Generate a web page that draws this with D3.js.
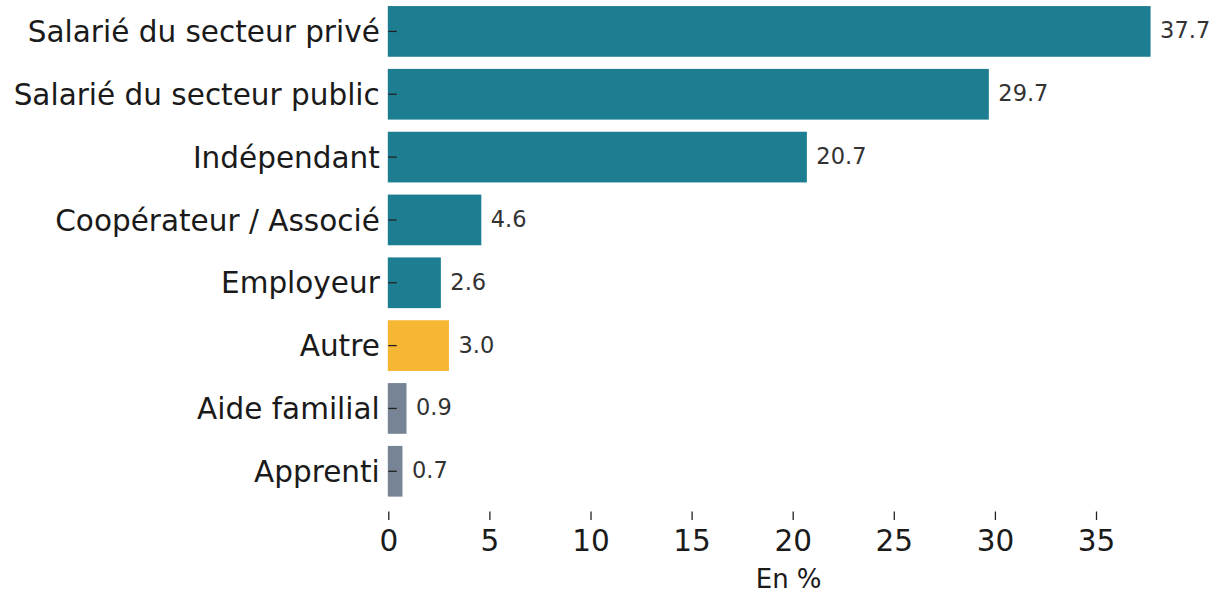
<!DOCTYPE html>
<html><head><meta charset="utf-8">
<script src="https://cdn.jsdelivr.net/npm/d3@7"></script>
<style>html,body{margin:0;padding:0;background:#fff;}svg{display:block;}</style>
</head><body>
<svg id="c" width="1222" height="596"></svg>
<script>
const categories = ["Salarié du secteur privé","Salarié du secteur public","Indépendant","Coopérateur / Associé","Employeur","Autre","Aide familial","Apprenti"];
const values = [37.7, 29.7, 20.7, 4.6, 2.6, 3.0, 0.9, 0.7];
const groups = ["main","main","main","main","main","other","minor","minor"];
const xTicks = [0,5,10,15,20,25,30,35];
const xLabel = "En %";

const colorMap = {main:"#1e7e91", other:"#f6b834", minor:"#768496"};
const font = "DejaVu Sans, sans-serif";
const svg = d3.select("#c");
const x = d3.scaleLinear().domain([0,35]).range([388.3,1096]);
const y = d3.scaleBand().domain(categories).range([0,502.7]).paddingInner(0.193).paddingOuter(0.0965);

svg.append("g").selectAll("rect").data(categories).join("rect")
  .attr("x", x(0)-0.5).attr("y", d=>y(d))
  .attr("width", (d,i)=>x(values[i])-x(0)+0.5).attr("height", y.bandwidth())
  .attr("fill", (d,i)=>colorMap[groups[i]]);

// y axis
const ya = svg.append("g").attr("transform", `translate(${x(0)},0)`)
  .call(d3.axisLeft(y).tickSize(-8.5).tickPadding(8.5));
ya.select(".domain").remove();
ya.selectAll(".tick line").attr("stroke","#222").attr("stroke-width",1.3);
ya.selectAll(".tick text").attr("font-family",font).attr("font-size","29.5px").attr("fill","#1a1a1a")
  .attr("dy","0.36em");

// x axis
const xa = svg.append("g").attr("transform", `translate(0,511.5)`)
  .call(d3.axisBottom(x).tickValues(xTicks).tickFormat(d3.format("d")).tickSize(8.5).tickPadding(10));
xa.select(".domain").remove();
xa.selectAll(".tick line").attr("stroke","#222").attr("stroke-width",1.3);
xa.selectAll(".tick text").attr("font-family",font).attr("font-size","29.5px").attr("fill","#1a1a1a");

svg.append("text").attr("x", x(19.8)).attr("y", 588)
  .attr("text-anchor","middle").attr("font-family",font).attr("font-size","26px").attr("fill","#1a1a1a")
  .text(xLabel);

// value labels
svg.append("g").selectAll("text").data(categories).join("text")
  .attr("x", (d,i)=>x(values[i])+9.5)
  .attr("y", d=>y(d)+y.bandwidth()/2 + 7)
  .attr("font-family",font).attr("font-size","22.5px").attr("fill","#333")
  .text((d,i)=>values[i].toFixed(1));
</script>
</body></html>
